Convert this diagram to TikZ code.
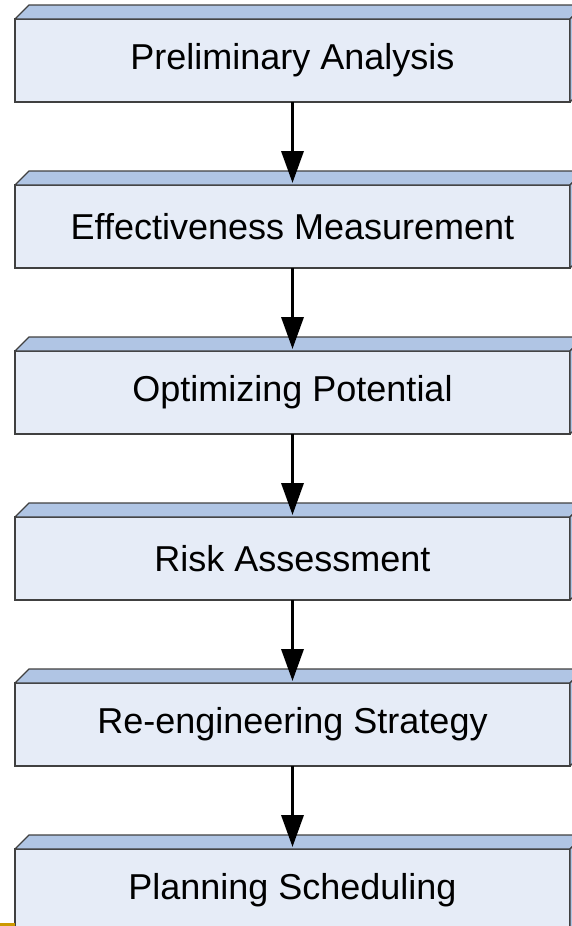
\documentclass[tikz,border=0pt]{standalone}
\usepackage{fontspec}
\setmainfont{Liberation Sans}
\usepackage{xcolor}
\usepackage{tikz}
\usetikzlibrary{arrows.meta,positioning}
\definecolor{corfrente}{RGB}{230,236,247}
\definecolor{cortopo}{RGB}{176,197,228}
\definecolor{corborda}{RGB}{64,64,64}
\definecolor{corlaranja}{RGB}{204,153,0}

\begin{document}
\begin{tikzpicture}[
  x=1pt, y=-1pt,
  node distance=83pt,
  caixa/.style={rectangle, draw=corborda, line width=1.3pt, fill=corfrente,
                minimum width=555pt, minimum height=83pt, outer sep=0pt,
                align=center, font=\fontsize{36}{40}\selectfont},
  face/.style={draw=corborda, line width=1.3pt, fill=cortopo, line join=round},
  seta/.style={-{Triangle[length=32pt,width=22pt]}, line width=3.5pt, color=black}
]
  \useasboundingbox (0,0) rectangle (572,926);
  \clip (0,0) rectangle (572,926);

  \node[caixa] (prelim) at (292.5,60.5) {Preliminary Analysis};
  \node[caixa, below=of prelim] (efetiv) {Effectiveness Measurement};
  \node[caixa, below=of efetiv] (otim) {Optimizing Potential};
  \node[caixa, below=of otim] (risco) {Risk Assessment};
  \node[caixa, below=of risco] (reeng) {Re-engineering Strategy};
  \node[caixa, below=of reeng] (plano) {Planning Scheduling};

  % faces do bloco 3D
  \foreach \n in {prelim,efetiv,otim,risco,reeng,plano} {
    \draw[face] (\n.north west) -- ++(14,-14) -- ([shift={(14pt,14pt)}]\n.north east) -- (\n.north east) -- cycle;
    \draw[face] (\n.north east) -- ++(14,-14) -- ([shift={(14pt,14pt)}]\n.south east) -- (\n.south east) -- cycle;
  }

  \draw[seta] (prelim.south) -- ([yshift=2pt]efetiv.north);
  \draw[seta] (efetiv.south) -- ([yshift=2pt]otim.north);
  \draw[seta] (otim.south) -- ([yshift=2pt]risco.north);
  \draw[seta] (risco.south) -- ([yshift=2pt]reeng.north);
  \draw[seta] (reeng.south) -- ([yshift=2pt]plano.north);

  \fill[corlaranja] (0,923) rectangle (15,926);
\end{tikzpicture}
\end{document}
